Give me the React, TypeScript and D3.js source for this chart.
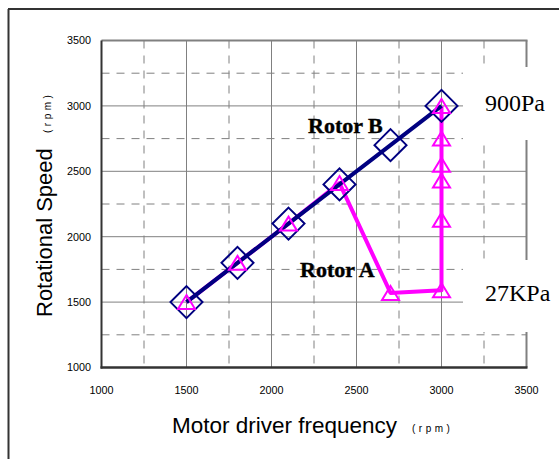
import React from "react";
import * as d3 from "d3";

const xTicks = [1000, 1500, 2000, 2500, 3000, 3500];
const yTicks = [1000, 1500, 2000, 2500, 3000, 3500];
const minorTicks = [1250, 1750, 2250, 2750, 3250];

const rotorBFreq = [1500, 1800, 2100, 2400, 2700, 3000];
const rotorBSpeed = [1500, 1800, 2100, 2400, 2700, 3000];

const rotorAFreq = [1500, 1800, 2100, 2400, 2700, 3000, 3000, 3000, 3000, 3000, 3000];
const rotorASpeed = [1500, 1800, 2100, 2410, 1570, 1590, 2130, 2430, 2550, 2750, 3000];

const seriesLabels = ["Rotor B", "Rotor A"];
const pressureLabels = ["900Pa", "27KPa"];

const NAVY = "#000080";
const MAGENTA = "#FF00FF";
const GRID = "#808080";

export default function App() {
  const x = d3.scaleLinear().domain([1000, 3500]).range([101.5, 526.5]);
  const y = d3.scaleLinear().domain([1000, 3500]).range([367.5, 40.5]);

  const ptsB: [number, number][] = rotorBFreq.map((f, i) => [x(f), y(rotorBSpeed[i])]);
  const ptsA: [number, number][] = rotorAFreq.map((f, i) => [x(f), y(rotorASpeed[i])]);
  const line = d3.line();

  const tri = (cx: number, cy: number) =>
    `M${cx},${cy - 7}L${cx + 8.5},${cy + 7}L${cx - 8.5},${cy + 7}Z`;
  const dia = (cx: number, cy: number) =>
    `M${cx},${cy - 16}L${cx + 16},${cy}L${cx},${cy + 16}L${cx - 16},${cy}Z`;

  const [x0, x1] = x.range();
  const [y0, y1] = y.range();

  return (
    <svg
      width={559}
      height={459}
      style={{ position: "absolute", left: 0, top: 0, display: "block", background: "#fff" }}
    >
      {/* outer frame */}
      <line x1={8.5} y1={9} x2={8.5} y2={459} stroke="#333" strokeWidth={2} />
      <line x1={8} y1={9} x2={559} y2={9} stroke="#333" strokeWidth={2} />

      {/* grid */}
      {minorTicks.map((t) => (
        <line key={"vx" + t} x1={x(t)} x2={x(t)} y1={y1} y2={y0} stroke={GRID} strokeWidth={1} strokeDasharray="8,7" />
      ))}
      {minorTicks.map((t) => (
        <line key={"hy" + t} x1={x0} x2={x1} y1={y(t)} y2={y(t)} stroke={GRID} strokeWidth={1} strokeDasharray="8,7" />
      ))}
      {xTicks.slice(1, -1).map((t) => (
        <line key={"vs" + t} x1={x(t)} x2={x(t)} y1={y1} y2={y0} stroke={GRID} strokeWidth={1} />
      ))}
      {yTicks.slice(1, -1).map((t) => (
        <line key={"hs" + t} x1={x0} x2={x1} y1={y(t)} y2={y(t)} stroke={GRID} strokeWidth={1} />
      ))}

      {/* plot border */}
      <line x1={x0} x2={x1 + 1} y1={y1} y2={y1} stroke={GRID} strokeWidth={2} />
      <line x1={x1} x2={x1} y1={y1} y2={y0} stroke={GRID} strokeWidth={2} />
      <line x1={x0} x2={x0} y1={y1} y2={y0 + 1} stroke="#333" strokeWidth={2} />
      <line x1={x0 - 1} x2={x1 + 1} y1={y0} y2={y0} stroke="#333" strokeWidth={2.5} />

      {/* label boxes */}
      <rect x={463} y={67} width={96} height={73} fill="#fff" />
      <rect x={463} y={260} width={96} height={72} fill="#fff" />

      {/* tick labels */}
      {xTicks.map((t) => (
        <text key={"xt" + t} x={x(t)} y={394} textAnchor="middle" fontFamily="Liberation Sans, Arial, sans-serif" fontSize={10.8} fill="#000">
          {t}
        </text>
      ))}
      {yTicks.map((t) => (
        <text key={"yt" + t} x={91} y={y(t) + 3.8} textAnchor="end" fontFamily="Liberation Sans, Arial, sans-serif" fontSize={10.8} fill="#000">
          {t}
        </text>
      ))}

      {/* series lines */}
      <path d={line(ptsA) || ""} fill="none" stroke={MAGENTA} strokeWidth={4} strokeLinejoin="round" />
      <path d={line(ptsB) || ""} fill="none" stroke={NAVY} strokeWidth={4} strokeLinejoin="round" />
      {ptsB.map(([cx, cy], i) => (
        <path key={"d" + i} d={dia(cx, cy)} fill="none" stroke={NAVY} strokeWidth={2} />
      ))}
      {ptsA.map(([cx, cy], i) => (
        <path key={"t" + i} d={tri(cx, cy)} fill="none" stroke={MAGENTA} strokeWidth={2} />
      ))}

      {/* series labels */}
      <text x={308} y={133} fontFamily="Liberation Serif, serif" fontWeight="bold" fontSize={22} fill="#000" stroke="#000" strokeWidth={0.4}>
        {seriesLabels[0]}
      </text>
      <text x={300} y={277} fontFamily="Liberation Serif, serif" fontWeight="bold" fontSize={22} fill="#000" stroke="#000" strokeWidth={0.4}>
        {seriesLabels[1]}
      </text>

      {/* pressure labels */}
      <text x={485} y={111} fontFamily="Liberation Serif, serif" fontSize={24} fill="#000">
        {pressureLabels[0]}
      </text>
      <text x={485} y={301} fontFamily="Liberation Serif, serif" fontSize={24} fill="#000">
        {pressureLabels[1]}
      </text>

      {/* axis titles */}
      <text x={172} y={433} fontFamily="Liberation Sans, Arial, sans-serif" fontSize={22.5} fill="#000">
        Motor driver frequency
      </text>
      <text x={412} y={432} fontFamily="Liberation Sans, Arial, sans-serif" fontSize={10} letterSpacing={3.5} fill="#000">
        (rpm)
      </text>
      <text
        transform="translate(51.5,317) rotate(-90)"
        fontFamily="Liberation Sans, Arial, sans-serif"
        fontSize={22}
        fill="#000"
      >
        Rotational Speed
      </text>
      <text
        transform="translate(51,133) rotate(-90)"
        fontFamily="Liberation Sans, Arial, sans-serif"
        fontSize={10}
        letterSpacing={3.5}
        fill="#000"
      >
        (rpm)
      </text>
    </svg>
  );
}
